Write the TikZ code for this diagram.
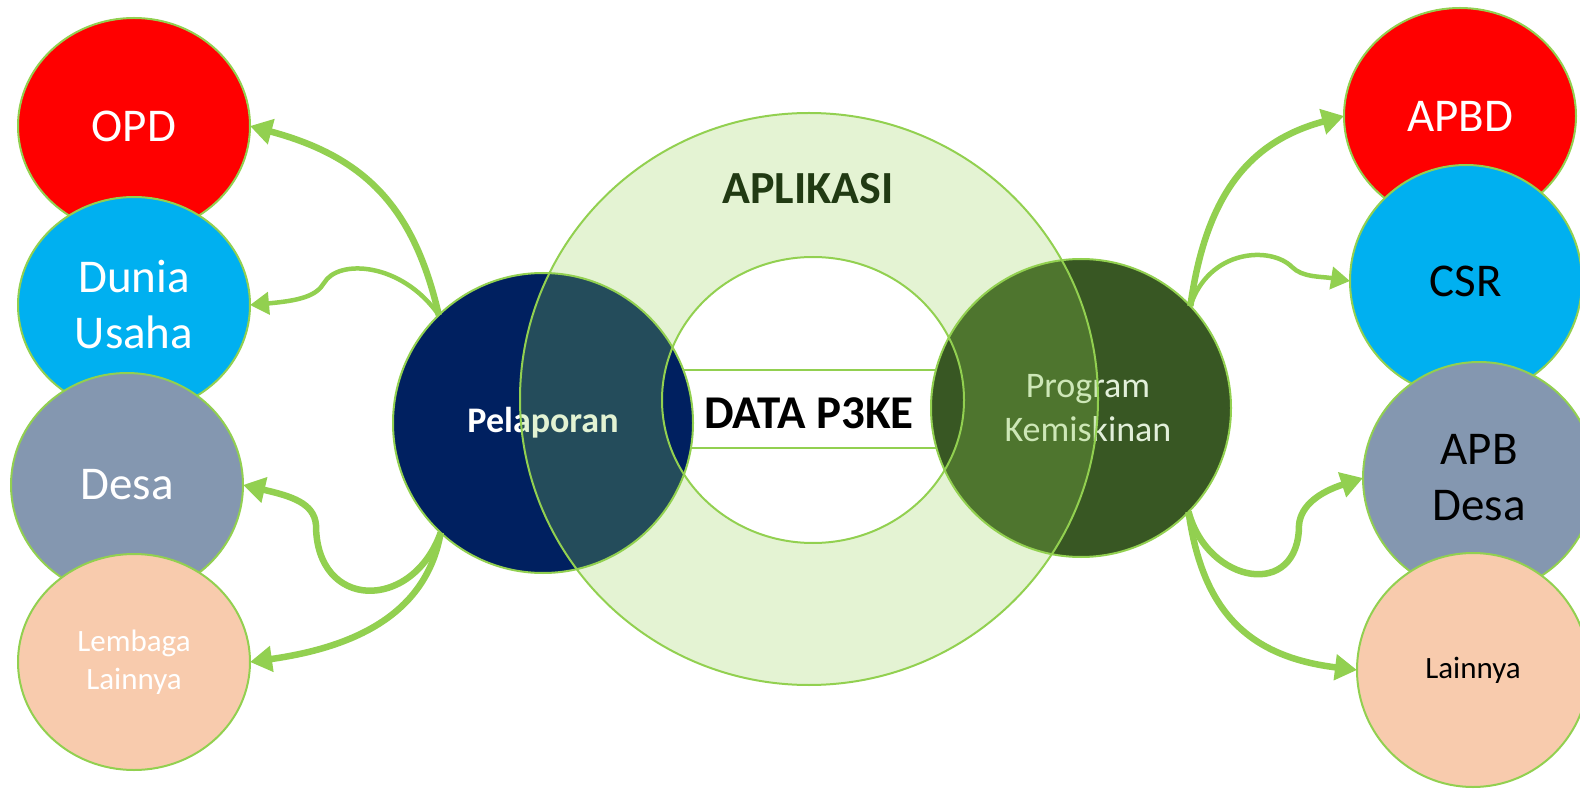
\documentclass[tikz,border=0pt]{standalone}
\usepackage{fontspec}
\setmainfont{Carlito}
\usetikzlibrary{shapes.geometric}
\usetikzlibrary{arrows.meta}

\definecolor{lgreen}{HTML}{92D050}
\definecolor{opdred}{HTML}{FF0000}
\definecolor{skyblue}{HTML}{00B0F0}
\definecolor{greyblue}{HTML}{8497B0}
\definecolor{peach}{HTML}{F8CBAD}
\definecolor{navy}{HTML}{002060}
\definecolor{darkgreen}{HTML}{385723}
\definecolor{textgreen}{HTML}{213A13}
\definecolor{palegreen}{HTML}{E2EFDA}

\begin{document}
\begin{tikzpicture}[x=1pt,y=1pt,
	line join=round,
	bubble/.style={ellipse,draw=lgreen,line width=2pt,inner sep=0pt,outer sep=0pt,
		minimum width=232pt,minimum height=216pt,align=center},
	hub/.style={ellipse,draw=lgreen,line width=2pt,inner sep=0pt,outer sep=0pt,
		minimum width=300pt,minimum height=300pt,align=center},
	big/.style={font=\fontsize{47}{56}\selectfont},
	small/.style={font=\fontsize{31}{38}\selectfont},
	link/.style={color=lgreen,line width=6.5pt,-{Triangle[length=22pt,width=25pt]}},
	thinlink/.style={color=lgreen,line width=4.5pt,-{Triangle[length=19pt,width=22pt]}}]

	\useasboundingbox (0,0) rectangle (1580,-791);

	% left column
	\node[bubble,big,fill=opdred,text=white] (opd) at (134,-126) {OPD};
	\node[bubble,big,fill=skyblue,text=white] (dun) at (134,-305) {Dunia\\Usaha};
	\node[bubble,big,fill=greyblue,text=white,minimum height=224pt] (desa) at (127,-485) {Desa};
	\node[bubble,small,fill=peach,text=white] (lem) at (134,-662) {Lembaga\\Lainnya};

	% right column
	\node[bubble,big,fill=opdred,text=white] (apbd) at (1460,-116) {APBD};
	\node[bubble,big,fill=skyblue,minimum height=232pt] (csr) at (1466,-281) {CSR};
	\node[bubble,big,fill=greyblue,minimum height=232pt] (apbdesa) at (1479,-478) {APB\\Desa};
	\node[bubble,small,fill=peach,minimum height=234pt] (lain) at (1473,-670) {Lainnya};

	% centre
	\node[draw=lgreen,line width=2pt,fill=white,minimum width=280pt,minimum height=78pt,
		text height=40pt,text depth=0pt,
		font=\fontsize{47}{56}\selectfont\bfseries] (data) at (809,-409) {DATA P3KE};
	\node[hub,fill=navy,text=white,font=\fontsize{36}{44}\selectfont\bfseries] (pel) at (543,-423) {Pelaporan};
	\node[hub,fill=darkgreen,text=palegreen,minimum height=298pt,
		font=\fontsize{36}{44}\selectfont] (prog) at (1081,-408) {\hspace*{14pt}Program\\\hspace*{14pt}Kemiskinan};

	% ring
	\fill[lgreen,fill opacity=0.25,even odd rule]
		(809,-399) ellipse [x radius=289pt,y radius=286pt]
		(813,-400) ellipse [x radius=151pt,y radius=143pt];
	\draw[lgreen,line width=2pt] (809,-399) ellipse [x radius=289pt,y radius=286pt];
	\draw[lgreen,line width=2pt] (813,-400) ellipse [x radius=151pt,y radius=143pt];
	\node[font=\fontsize{46}{56}\selectfont\bfseries,text=textgreen] (apl) at (808,-189) {APLIKASI};

	\coordinate (dunbend) at (324,-283);
	\coordinate (desabend) at (316,-525);
	\coordinate (csrbend) at (1292,-267);
	\coordinate (apbbend) at (1299,-525);

	% Pelaporan links
	\draw[link] (pel.134) .. controls +(103:110) and +(-15:120) .. (opd.east);
	\draw[thinlink] (pel.134) .. controls +(125:65) and +(60:28) .. (dunbend)
		.. controls +(240:15) and +(5:50) .. (dun.east);
	\draw[link] (pel.227) .. controls +(250:85) and +(270:85) .. (desabend)
		.. controls +(95:22) and +(-13:50) .. (desa.east);
	\draw[link] (pel.227) .. controls +(260:80) and +(8:110) .. (lem.east);

	% Program links
	\draw[link] (prog.43) .. controls +(82:110) and +(195:100) .. (apbd.west);
	\draw[thinlink] (prog.43) .. controls +(72:60) and +(135:30) .. (csrbend)
		.. controls +(-45:15) and +(171:30) .. (csr.west);
	\draw[link] (prog.-44) .. controls +(-75:75) and +(-90:75) .. (apbbend)
		.. controls +(85:20) and +(198:45) .. (apbdesa.west);
	\draw[link] (prog.-44) .. controls +(-82:100) and +(173:110) .. (lain.west);
\end{tikzpicture}
\end{document}
